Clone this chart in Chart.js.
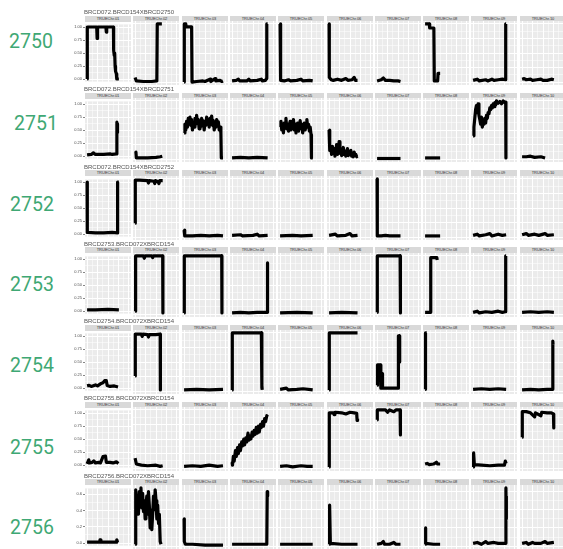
<!DOCTYPE html>
<html><head><meta charset="utf-8">
<script src="https://cdn.jsdelivr.net/npm/chart.js@4/dist/chart.umd.min.js"></script>
<style>
html,body{margin:0;padding:0;background:#fff;}
body{width:563px;height:549px;position:relative;overflow:hidden;font-family:"Liberation Sans",Arial,sans-serif;}
.lab{position:absolute;font-family:Roboto,"Liberation Sans",sans-serif;font-weight:400;font-size:19.5px;color:#3FA874;line-height:1;}
.ttl{position:absolute;font-size:6px;color:#555;white-space:nowrap;line-height:1;will-change:transform;}
.strip{position:absolute;background:#D9D9D9;overflow:hidden;}
.strip span{position:absolute;left:50%;top:50%;transform:translate(-50%,-50%) scale(0.5);font-size:8px;color:#333;white-space:nowrap;}
canvas{position:absolute;}
</style></head>
<body>
<script>
// ---------- data ----------
const rowLabels = ['2750','2751','2752','2753','2754','2755','2756'];
const rowTitles = ['BRCD072.BRCD154XBRCD2750','BRCD072.BRCD154XBRCD2751','BRCD072.BRCD154XBRCD2752',
  'BRCD2753.BRCD072XBRCD154','BRCD2754.BRCD072XBRCD154','BRCD2755.BRCD072XBRCD154','BRCD2756.BRCD072XBRCD154'];
const stripLabels = ['TRUEChr.01','TRUEChr.02','TRUEChr.03','TRUEChr.04','TRUEChr.05',
  'TRUEChr.06','TRUEChr.07','TRUEChr.08','TRUEChr.09','TRUEChr.10'];
const yTicksMain = [0, 0.25, 0.5, 0.75, 1.0];
const yTicksLast = [0, 0.2, 0.4, 0.6];
const xTicks = [0, 25, 50, 75, 100];

// each panel: flat list of [position %, frequency] pairs
const s2750 = [
  [0,0, 0.5,1, 23,1, 24,0.78, 25,1, 45,1, 46,0.9, 47,1, 63,1, 63.5,0.55, 65,0.45, 66,0.5, 67,0.25, 68,0.15, 70,0.1, 71,0, 76,0],
  [0,0.08, 2,0.08, 3,0.02, 20,0.01, 40,0.01, 52,0.02, 53,1, 58,1, 64,1],
  [0,0, 0.5,1, 4,1, 5,0.95, 18,0.95, 19,0, 30,0.01, 45,0.02, 50,0.01, 62,0.05, 64,0.01, 74,0.06, 76,0.02, 86,0.03, 90,0.01, 93,0.02],
  [0,0.02, 10,0.03, 15,0.05, 18,0.02, 35,0.02, 40,0.05, 43,0.02, 60,0.03, 70,0.05, 72,0.02, 80,0.03, 82,0.06, 83,1, 85,1],
  [0,1, 1,1, 1.5,0.03, 10,0.02, 20,0.04, 25,0.02, 40,0.03, 50,0.05, 55,0.02, 70,0.03, 78,0.02],
  [0,1, 0.5,0.08, 5,0.04, 10,0.03, 20,0.05, 30,0.03, 40,0.06, 45,0.03, 55,0.04, 60,0.08, 63,0.03, 68,0.03],
  [0,0.02, 10,0.04, 15,0.07, 20,0.03, 30,0.03, 40,0.02, 50,0.02, 56,0.01],
  [0,1, 10,1, 11,0.93, 21,0.93, 22,0.02, 30,0.02, 31,0.15, 36,0.15],
  [0,0.03, 10,0.05, 15,0.02, 30,0.04, 35,0.02, 45,0.05, 50,0.03, 60,0.04, 70,0.05, 77,0.04, 78,1, 79,1],
  [0,0.05, 5,0.06, 10,0.04, 20,0.05, 25,0.03, 35,0.04, 45,0.05, 50,0.03, 60,0.03, 70,0.05, 76,0.04]
];
const s2751 = [
  [0,0.02, 10,0.03, 15,0.06, 20,0.03, 40,0.03, 55,0.04, 60,0.03, 70,0.04, 71,0.45, 71.5,0.65, 72,0.5, 72.5,0.62, 73,0.45],
  [0,0.1, 2,0.12, 3,0.02, 30,0.02, 50,0.03, 60,0.04, 65,0.05],
  [0,0.45, 2,0.6, 4,0.5, 6,0.65, 8,0.55, 10,0.7, 12,0.6, 14,0.72, 16,0.58, 18,0.68, 20,0.5, 22,0.62, 24,0.55, 26,0.7, 28,0.6, 30,0.75, 32,0.62, 34,0.68, 36,0.52, 38,0.64, 40,0.56, 42,0.7, 44,0.6, 46,0.66, 48,0.5, 50,0.62, 52,0.58, 54,0.72, 56,0.6, 58,0.65, 60,0.55, 62,0.7, 64,0.62, 66,0.74, 68,0.58, 70,0.66, 72,0.5, 74,0.6, 76,0.55, 78,0.68, 80,0.58, 82,0.64, 84,0.5, 86,0.55, 88,0.45, 89,0.02, 93,0.02],
  [0,0.02, 20,0.03, 40,0.02, 60,0.03, 85,0.02],
  [0,0.55, 2,0.65, 4,0.5, 6,0.6, 8,0.45, 10,0.62, 12,0.55, 14,0.7, 16,0.52, 18,0.6, 20,0.48, 22,0.58, 24,0.65, 26,0.5, 28,0.62, 30,0.55, 32,0.68, 34,0.5, 36,0.6, 38,0.45, 40,0.55, 42,0.62, 44,0.48, 46,0.58, 48,0.66, 50,0.52, 52,0.6, 54,0.45, 56,0.55, 58,0.62, 60,0.5, 62,0.58, 64,0.68, 66,0.55, 68,0.6, 70,0.48, 72,0.55, 74,0.42, 75,0.02, 78,0.02],
  [0,0.5, 1,0.45, 2,0.15, 4,0.2, 6,0.08, 8,0.22, 10,0.1, 12,0.18, 14,0.05, 16,0.12, 18,0.25, 20,0.08, 22,0.15, 24,0.3, 26,0.1, 28,0.18, 30,0.06, 32,0.12, 34,0.2, 36,0.08, 38,0.14, 40,0.05, 42,0.1, 44,0.18, 46,0.06, 48,0.12, 50,0.08, 52,0.15, 54,0.05, 56,0.1, 58,0.04, 60,0.12, 62,0.06, 64,0.08, 66,0.04, 68,0.05],
  [0,0.01, 30,0.01, 56,0.01],
  [0,0.02, 15,0.02, 36,0.02],
  [0,0.4, 2,0.55, 4,0.7, 6,0.85, 8,0.92, 10,0.8, 12,0.95, 14,0.75, 16,0.68, 18,0.6, 20,0.72, 22,0.55, 24,0.65, 26,0.6, 28,0.7, 30,0.62, 32,0.75, 34,0.7, 36,0.8, 38,0.78, 40,0.88, 42,0.85, 44,0.92, 46,0.88, 48,0.95, 50,0.9, 52,0.97, 54,0.93, 56,1.0, 60,0.96, 64,0.99, 68,0.95, 72,1.0, 76,0.97, 78,0.98, 78.5,0.02, 79,0.02],
  [0,0.04, 10,0.04, 20,0.05, 30,0.03, 45,0.04, 55,0.02]
];
const s2752 = [
  [0,1, 0.5,0.03, 20,0.02, 40,0.02, 60,0.03, 72,0.02, 73,1, 76,1],
  [0,0.24, 0.5,0.98, 10,0.98, 30,0.97, 32,0.93, 34,0.97, 45,0.96, 47,0.92, 49,0.97, 55,0.95, 57,0.92, 59,0.97, 66,0.97],
  [0,0.12, 1,0.12, 2,0.02, 20,0.02, 40,0.03, 60,0.02, 80,0.03, 93,0.02],
  [0,0.03, 20,0.04, 25,0.02, 50,0.03, 60,0.05, 65,0.02, 85,0.03],
  [0,0.02, 30,0.03, 50,0.02, 78,0.03],
  [0,0.03, 15,0.05, 20,0.02, 40,0.03, 50,0.06, 55,0.02, 68,0.03],
  [0,1, 0.5,0.02, 10,0.02, 20,0.03, 30,0.02, 56,0.02],
  [0,0.02, 36,0.02],
  [0,0.03, 10,0.05, 15,0.02, 30,0.04, 40,0.06, 45,0.02, 60,0.05, 70,0.03, 79,0.04],
  [0,0.04, 10,0.06, 15,0.03, 30,0.05, 40,0.03, 55,0.06, 60,0.03, 76,0.04]
];
const s2753 = [
  [0,0.02, 20,0.02, 50,0.03, 76,0.02],
  [0,0.05, 1,0.05, 1.5,1, 20,1, 22,0.96, 24,1, 40,1, 42,0.97, 44,1, 66,1, 66.5,0.02, 67,0.02],
  [0,0.02, 0.5,1, 90,1, 90.5,0.02, 93,0.02],
  [0,0.02, 20,0.03, 40,0.02, 60,0.03, 84,0.03, 84.5,0.88, 85,0.82],
  [0,0.02, 40,0.03, 78,0.02],
  [0,0.02, 30,0.03, 68,0.02],
  [0,0.03, 0.5,1, 20,1, 50,1, 55,1, 55.5,0.02, 56,0.02],
  [0,0.03, 13,0.03, 13.5,0.97, 28,0.97, 29,0.93],
  [0,0.03, 10,0.05, 15,0.02, 30,0.04, 45,0.03, 60,0.05, 70,0.03, 77,0.04, 78,1, 79,1],
  [0,0.03, 20,0.04, 40,0.03, 60,0.04, 76,0.03]
];
const s2754 = [
  [0,0.04, 5,0.05, 10,0.03, 20,0.06, 25,0.04, 32,0.08, 38,0.1, 42,0.14, 46,0.14, 48,0.05, 55,0.03, 65,0.04, 74,0.02],
  [0,0.26, 0.5,0.98, 15,0.98, 17,0.94, 19,0.98, 30,0.97, 32,0.93, 34,0.97, 50,0.97, 60,0.98, 60.5,0.02, 63,0.02],
  [0,0.02, 30,0.03, 60,0.02, 93,0.03],
  [0,0.02, 0.5,1, 30,1, 70,1, 71,0.05, 71.5,0.1, 72,0.02],
  [0,0.03, 15,0.05, 20,0.02, 40,0.03, 55,0.04, 78,0.02],
  [0,0.02, 0.5,1, 30,1, 68,1],
  [0,0.1, 1,0.45, 8,0.45, 9,0.05, 12,0.3, 13,0.05, 50,0.05, 51,0.95, 53,0.95, 54,0.5],
  [0,0.03, 1,1, 4,1],
  [0,0.03, 20,0.04, 40,0.03, 60,0.04, 79,0.03],
  [0,0.02, 20,0.03, 40,0.02, 60,0.03, 73,0.03, 73.5,0.86, 74,0.8]
];
const s2755 = [
  [0,0.02, 4,0.1, 6,0.04, 12,0.05, 16,0.08, 20,0.04, 28,0.05, 32,0.04, 38,0.16, 44,0.17, 46,0.05, 55,0.05, 62,0.04, 70,0.06, 75,0.03],
  [0,0.17, 2,0.17, 3,0.07, 15,0.05, 30,0.04, 50,0.05, 60,0.03, 66,0.04],
  [0,0.03, 20,0.04, 40,0.03, 60,0.05, 80,0.03, 93,0.04],
  [0,0.1, 1,0.05, 3,0.2, 5,0.12, 8,0.3, 10,0.2, 13,0.35, 15,0.25, 18,0.4, 20,0.3, 23,0.45, 25,0.38, 28,0.5, 30,0.4, 33,0.52, 35,0.45, 38,0.6, 40,0.48, 43,0.55, 45,0.5, 48,0.62, 50,0.55, 53,0.65, 55,0.58, 58,0.7, 60,0.6, 63,0.72, 65,0.62, 68,0.75, 70,0.7, 73,0.8, 75,0.72, 78,0.85, 80,0.8, 83,0.9, 85,0.88],
  [0,0.03, 15,0.04, 30,0.02, 50,0.04, 65,0.03, 78,0.03],
  [0,0.02, 0.5,0.95, 10,0.95, 12,0.92, 14,0.96, 30,0.95, 40,0.93, 50,0.96, 60,0.95, 66,0.94, 67,0.82, 68,0.85],
  [0,0.83, 0.5,1, 20,1, 25,0.96, 30,1, 40,0.97, 45,1, 55,1, 55.5,0.57, 56,0.57],
  [0,0.07, 5,0.08, 10,0.06, 20,0.07, 27,0.1, 30,0.07, 36,0.07],
  [0,0.02, 0.5,0.26, 2,0.26, 3,0.06, 20,0.05, 40,0.04, 60,0.05, 75,0.05, 77,0.12, 79,0.08],
  [0,0.53, 0.5,0.97, 10,0.97, 20,0.95, 30,0.88, 32,0.95, 45,0.9, 47,0.96, 60,0.95, 70,0.95, 75,0.93, 75.5,0.69, 76,0.69]
];
const s2756 = [
  [0,0.01, 30,0.01, 31,0.04, 33,0.01, 70,0.01, 71,0.04, 73,0.01],
  [0,0.02, 1,0.45, 2,0.62, 4,0.4, 6,0.55, 8,0.35, 10,0.6, 12,0.5, 14,0.64, 16,0.42, 18,0.58, 20,0.38, 22,0.5, 24,0.3, 26,0.45, 28,0.55, 30,0.35, 32,0.6, 34,0.45, 36,0.2, 38,0.4, 40,0.18, 42,0.35, 44,0.55, 46,0.4, 48,0.62, 50,0.5, 52,0.3, 54,0.45, 56,0.25, 58,0.35, 60,0.05, 62,0.02],
  [0,0.3, 0.5,0.05, 3,0.02, 20,0.02, 50,0.01, 93,0.01],
  [0,0.02, 20,0.02, 50,0.02, 83,0.02, 84,0.6, 85,0.55],
  [0,0.02, 40,0.02, 78,0.02],
  [0,0.02, 0.5,0.45, 2,0.45, 3,0.03, 30,0.02, 68,0.02],
  [0,0.02, 10,0.03, 15,0.05, 18,0.02, 30,0.02, 40,0.04, 45,0.02, 56,0.02],
  [0,0.02, 0.5,0.2, 1.5,0.2, 2,0.03, 20,0.02, 36,0.02],
  [0,0.03, 10,0.04, 20,0.02, 30,0.05, 35,0.03, 50,0.04, 60,0.03, 78,0.03, 78.5,0.64, 79,0.3, 79.5,0.55],
  [0,0.03, 10,0.04, 15,0.02, 25,0.04, 30,0.03, 45,0.03, 55,0.05, 60,0.03, 76,0.04]
];
const rowSeries = [s2750, s2751, s2752, s2753, s2754, s2755, s2756];
const rowTicks = [yTicksMain, yTicksMain, yTicksMain, yTicksMain, yTicksMain, yTicksMain, yTicksLast];

// ---------- layout ----------
const colX0 = 85, colPitch = 48.3, panelW = 46;
const rowY0 = 12, rowPitch = 77.25, plotH = 64;
const labelY = [42, 124, 204.5, 285, 366, 448, 528];
const labelX = [9, 14, 10, 10, 10, 10, 10];
const axisW = 15;

const bgPlugin = {
  id: 'panelBg',
  beforeDraw(chart) {
    const a = chart.chartArea, c = chart.ctx;
    c.save(); c.fillStyle = '#EBEBEB';
    c.fillRect(a.left, a.top, a.right - a.left, a.bottom - a.top);
    c.restore();
  }
};

function withMinor(major, lo, hi) {
  const out = [];
  for (let i = 0; i < major.length; i++) {
    out.push({ value: major[i], major: true });
    if (i < major.length - 1) out.push({ value: (major[i] + major[i + 1]) / 2, major: false });
  }
  const step = major[1] - major[0];
  const below = major[0] - step / 2, above = major[major.length - 1] + step / 2;
  if (below >= lo) out.unshift({ value: below, major: false });
  if (above <= hi) out.push({ value: above, major: false });
  return out;
}

const body = document.body;
rowSeries.forEach((series, ri) => {
  const ty = rowY0 + rowPitch * ri;
  const lab = document.createElement('div');
  lab.className = 'lab'; lab.textContent = rowLabels[ri];
  lab.style.left = labelX[ri] + 'px'; lab.style.top = (labelY[ri] - 10) + 'px';
  body.appendChild(lab);
  const t = document.createElement('div');
  t.className = 'ttl'; t.textContent = rowTitles[ri];
  t.style.left = '84px'; t.style.top = (ty - 3) + 'px';
  body.appendChild(t);

  let yMax = 0;
  series.forEach(a => { for (let i = 1; i < a.length; i += 2) yMax = Math.max(yMax, a[i]); });
  const yMin = -0.05 * yMax, yTop = 1.05 * yMax;
  const majors = rowTicks[ri];
  const dec = majors[1] === 0.25 ? 2 : 1;
  const yGrid = withMinor(majors, yMin, yTop);
  const xGrid = withMinor(xTicks, -5, 105);

  series.forEach((flat, ci) => {
    const left = Math.round(colX0 + colPitch * ci);
    const strip = document.createElement('div');
    strip.className = 'strip';
    strip.style.left = left + 'px'; strip.style.top = Math.round(ty + 3.5) + 'px';
    strip.style.width = panelW + 'px'; strip.style.height = '5.5px';
    const sp = document.createElement('span'); sp.textContent = stripLabels[ci];
    strip.appendChild(sp); body.appendChild(strip);

    const first = ci === 0;
    const cv = document.createElement('canvas');
    const cw = panelW + (first ? axisW : 0);
    cv.width = cw; cv.height = plotH;
    cv.style.width = cw + 'px'; cv.style.height = plotH + 'px';
    cv.style.left = (left - (first ? axisW : 0)) + 'px';
    cv.style.top = Math.round(ty + 9) + 'px';
    body.appendChild(cv);

    const pts = [];
    for (let i = 0; i < flat.length; i += 2) pts.push({ x: flat[i], y: flat[i + 1] });

    new Chart(cv, {
      type: 'line',
      data: { datasets: [{ data: pts, borderColor: '#000', borderWidth: 3.2, pointRadius: 0,
        tension: 0, fill: false, borderJoinStyle: 'round', borderCapStyle: 'butt' }] },
      options: {
        responsive: false, animation: false, devicePixelRatio: 1,
        layout: { padding: 0 },
        plugins: { legend: { display: false }, tooltip: { enabled: false } },
        scales: {
          x: {
            type: 'linear', min: -5, max: 105,
            ticks: { display: false },
            grid: { color: '#FFFFFF', lineWidth: c => (c.tick && c.tick.major) ? 1 : 0.5, drawTicks: false },
            border: { display: false },
            afterBuildTicks: s => { s.ticks = xGrid.map(o => ({ value: o.value, major: o.major })); },
            afterFit: s => { s.height = 0; }
          },
          y: {
            type: 'linear', min: yMin, max: yTop,
            ticks: {
              display: first, autoSkip: false, padding: 1, color: '#4D4D4D',
              font: { size: 4, family: 'Liberation Sans' },
              callback: function (v, i, ticks) { return ticks[i].major ? Number(v).toFixed(dec) : ''; }
            },
            grid: {
              color: '#FFFFFF', lineWidth: c => (c.tick && c.tick.major) ? 1 : 0.5,
              drawTicks: first, tickLength: 2, tickWidth: 0.6,
              tickColor: c => (c.tick && c.tick.major) ? '#333333' : 'rgba(0,0,0,0)'
            },
            border: { display: false },
            afterBuildTicks: s => { s.ticks = yGrid.map(o => ({ value: o.value, major: o.major })); },
            afterFit: s => { s.width = first ? axisW : 0; }
          }
        }
      },
      plugins: [bgPlugin]
    });
  });
});
</script>
</body></html>
